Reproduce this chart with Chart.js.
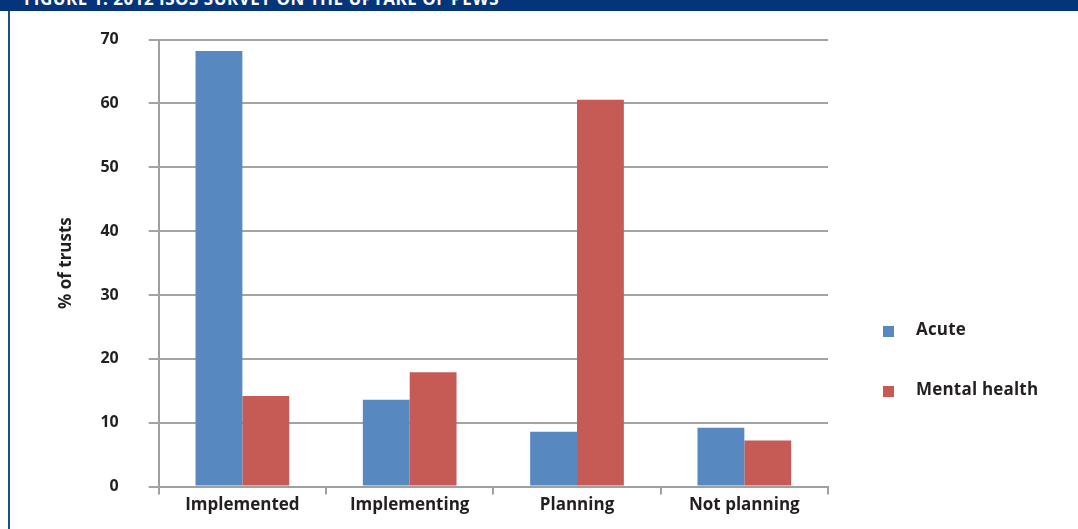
<!DOCTYPE html>
<html>
<head>
<meta charset="utf-8">
<script src="https://cdn.jsdelivr.net/npm/chart.js@4/dist/chart.umd.min.js"></script>
<style>
  html, body { margin: 0; padding: 0; background: #fff; }
  #wrap { position: relative; width: 1078px; height: 529px; overflow: hidden; background: #fff; }
  #header { position: absolute; left: 0; top: 0; width: 1078px; height: 11px; background: #04357a; overflow: hidden; }
  #header span { position: absolute; left: 24px; top: -13px; color: #fff; font: bold 17px "Open Sans", sans-serif; white-space: nowrap; letter-spacing: 0.5px; }
  #leftline { position: absolute; left: 8px; top: 11px; width: 2px; height: 518px; background: #1b4b96; }
  #c { position: absolute; left: 0; top: 0; }
  #legend { position: absolute; left: 883px; top: 322px; font: bold 17px "Open Sans", sans-serif; color: #231f20; }
  .item { position: relative; height: 60px; }
  .sw { position: absolute; left: 0; top: 4px; width: 11px; height: 11px; }
  .lt { position: absolute; left: 33px; top: -5px; white-space: nowrap; letter-spacing: 0.2px; }
</style>
</head>
<body>
<div id="wrap">
  <canvas id="c" width="1078" height="529"></canvas>
  <div id="header"><span>FIGURE 1: 2012 ISOS SURVEY ON THE UPTAKE OF PEWS</span></div>
  <div id="leftline"></div>
  <div id="legend"></div>
</div>
<script>
const categories = ["Implemented", "Implementing", "Planning", "Not planning"];
const seriesNames = ["Acute", "Mental health"];
const acute = [68.2, 13.6, 8.6, 9.2];
const mentalHealth = [14.2, 17.9, 60.6, 7.2];
const yTicks = [0, 10, 20, 30, 40, 50, 60, 70];
const colors = ["#5888c0", "#c65b56"];

const legend = document.getElementById('legend');
seriesNames.forEach((n, i) => {
  const d = document.createElement('div'); d.className = 'item';
  d.innerHTML = '<div class="sw" style="background:' + colors[i] + '"></div><div class="lt">' + n + '</div>';
  legend.appendChild(d);
});

new Chart(document.getElementById('c'), {
  type: 'bar',
  data: {
    labels: categories,
    datasets: [
      { label: seriesNames[0], data: acute, backgroundColor: colors[0] },
      { label: seriesNames[1], data: mentalHealth, backgroundColor: colors[1] }
    ]
  },
  options: {
    responsive: false,
    animation: false,
    devicePixelRatio: 1,
    layout: { padding: { left: 56, right: 250, top: 28, bottom: 14 } },
    datasets: { bar: { categoryPercentage: 0.56, barPercentage: 1.0 } },
    plugins: { legend: { display: false }, tooltip: { enabled: false } },
    scales: {
      x: {
        grid: { display: true, drawOnChartArea: false, drawTicks: true, tickLength: 8, color: '#a0a0a0', lineWidth: 2 },
        border: { display: true, color: '#a0a0a0', width: 2 },
        ticks: { color: '#231f20', font: { family: 'Open Sans', size: 17, weight: 'bold' }, padding: 0 }
      },
      y: {
        min: 0, max: 70,
        afterBuildTicks: (s) => { s.ticks = yTicks.map(v => ({ value: v })); },
        grid: { color: '#a3a3a3', lineWidth: 2, tickLength: 10 },
        border: { display: true, color: '#a0a0a0', width: 2 },
        ticks: { color: '#231f20', font: { family: 'Open Sans', size: 16, weight: 'bold' }, padding: 30 },
        title: { display: true, text: '% of trusts', color: '#231f20', font: { family: 'Open Sans', size: 17, weight: 'bold' }, padding: { top: 0, bottom: -6 } }
      }
    }
  }
});
</script>
</body>
</html>
